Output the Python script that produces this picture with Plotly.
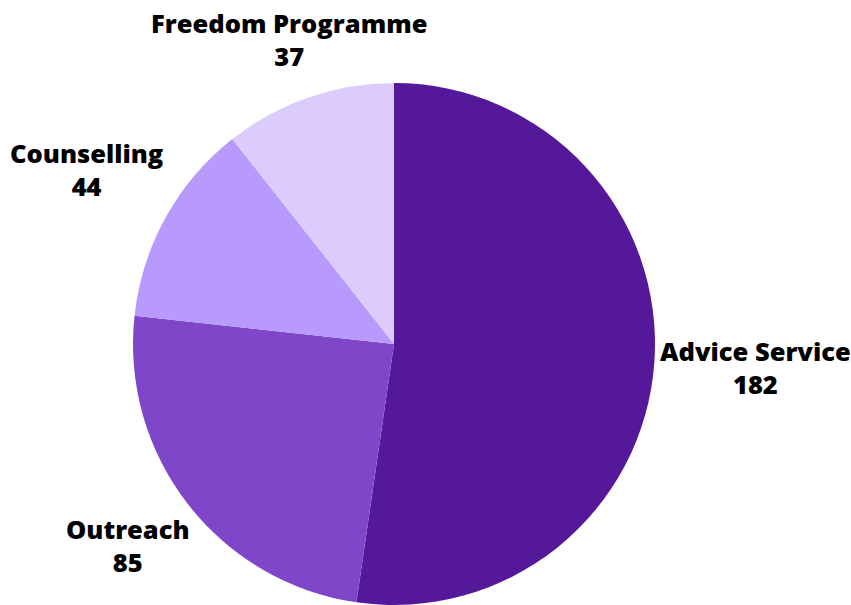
import plotly.graph_objects as go

services = ["Advice Service", "Outreach", "Counselling", "Freedom Programme"]
clients = [182, 85, 44, 37]
slice_colors = ["#55189a", "#8046c9", "#b899fc", "#dcccfe"]

# label anchor points (paper fraction) for each service, in the same order
label_x = [755 / 851, 128 / 851, 86 / 851, 289 / 851]
label_y = [1 - 367 / 605, 1 - 545 / 605, 1 - 170 / 605, 1 - 39.5 / 605]

fig = go.Figure(
    go.Pie(
        labels=services,
        values=clients,
        sort=False,
        direction="clockwise",
        rotation=0,
        marker=dict(colors=slice_colors, line=dict(width=0)),
        textinfo="none",
        hoverinfo="label+value",
        domain=dict(x=[133 / 851, 655 / 851], y=[0, 522 / 605]),
        showlegend=False,
    )
)

for name, n, x, y in zip(services, clients, label_x, label_y):
    fig.add_annotation(
        x=x, y=y, xref="paper", yref="paper",
        xanchor="center", yanchor="middle",
        text=f"{name}<br>{n}",
        showarrow=False,
        font=dict(family="Open Sans", size=25.5, weight=800, color="#000000"),
    )

fig.update_layout(
    width=851,
    height=605,
    margin=dict(l=0, r=0, t=0, b=0),
    paper_bgcolor="white",
    plot_bgcolor="white",
)

fig.write_html("out.html")
